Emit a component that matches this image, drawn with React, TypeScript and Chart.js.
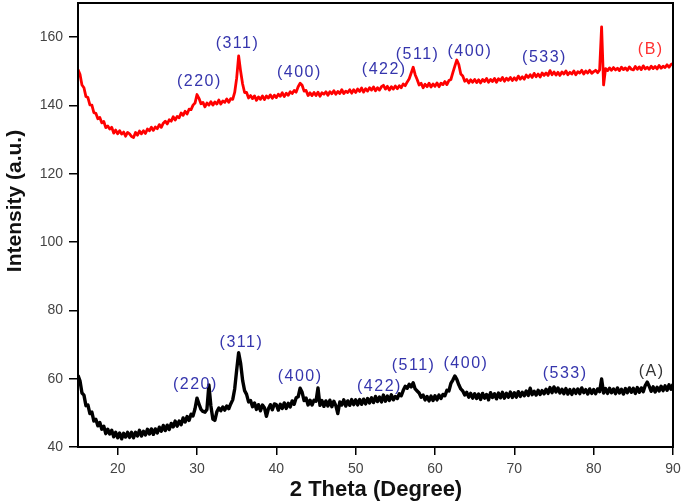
import React, { useEffect, useRef } from 'react';
import { Chart, registerables } from 'chart.js';

Chart.register(...registerables);

// XRD scan sampling (2θ, degrees)
const THETA_START = 15;
const THETA_STEP = 0.25;

// Sample (A) intensities, 15° → 90° every 0.25°
const intensityA = [
  61.0, 59.4, 55.8, 55.2, 52.1, 52.3, 49.8, 50.2, 47.6, 48.1, 46.2, 47.2, 45.2, 46.1, 43.9, 45.2, 43.8, 44.9, 43.0, 44.3,
  42.7, 44.1, 42.4, 44.0, 42.9, 44.3, 42.8, 44.3, 42.7, 44.3, 43.2, 44.9, 43.2, 44.6, 43.5, 45.2, 43.8, 45.3, 43.7, 45.3,
  44.1, 45.8, 44.6, 46.3, 44.8, 46.4, 45.1, 46.9, 45.9, 47.6, 46.1, 47.6, 46.5, 48.5, 47.3, 48.9, 47.8, 49.6, 49.1, 51.2,
  54.3, 52.6, 51.0, 50.4, 50.2, 51.0, 58.2, 52.0, 48.2, 47.8, 50.3, 51.4, 50.6, 51.7, 50.8, 52.0, 51.2, 52.6, 53.8, 57.0,
  62.5, 67.6, 64.5, 59.5, 56.5, 55.4, 53.2, 53.6, 51.8, 52.9, 51.0, 52.4, 50.6, 52.3, 51.5, 49.0, 51.2, 52.4, 50.9, 52.6,
  52.4, 50.8, 52.5, 51.3, 52.9, 51.3, 52.8, 51.7, 53.5, 52.5, 54.4, 54.7, 57.2, 56.0, 53.6, 54.3, 52.3, 53.7, 52.3, 53.7,
  53.4, 57.3, 52.2, 53.6, 51.9, 53.5, 52.0, 53.7, 51.8, 53.4, 52.1, 49.8, 53.2, 52.3, 53.8, 52.0, 53.5, 52.2, 53.9, 52.4,
  53.8, 52.3, 53.9, 52.5, 54.0, 52.6, 54.2, 52.9, 54.4, 53.0, 54.8, 53.3, 54.6, 53.2, 55.2, 53.4, 54.9, 53.6, 55.3, 53.8,
  54.8, 54.2, 55.6, 55.0, 56.6, 57.8, 57.2, 58.4, 57.6, 58.8, 57.0, 56.4, 55.8, 54.6, 55.2, 53.8, 54.8, 53.5, 54.9, 53.6,
  55.0, 53.8, 55.2, 54.2, 55.4, 55.0, 56.6, 56.4, 58.6, 59.6, 60.8, 59.8, 58.2, 57.0, 56.4, 55.2, 56.0, 54.6, 55.7, 54.3,
  55.6, 54.2, 55.5, 53.9, 55.7, 54.3, 55.4, 53.8, 55.9, 54.5, 55.6, 54.1, 55.8, 54.4, 56.0, 54.3, 55.7, 54.6, 56.1, 54.5,
  55.9, 54.6, 56.2, 54.8, 56.0, 55.0, 56.4, 55.1, 57.2, 55.3, 56.3, 55.2, 56.6, 55.4, 56.5, 55.6, 56.9, 55.7, 57.4, 55.9,
  57.6, 56.1, 57.3, 55.8, 56.9, 55.6, 57.1, 55.5, 56.8, 55.4, 56.9, 55.7, 57.0, 55.6, 57.3, 55.9, 56.8, 55.5, 57.0, 55.7,
  56.8, 55.6, 57.0, 56.2, 59.9, 55.8, 57.1, 55.7, 57.2, 55.9, 57.0, 55.6, 57.3, 55.8, 56.9, 55.5, 57.1, 55.9, 57.3, 56.0,
  57.2, 55.7, 57.4, 56.0, 57.3, 56.2, 58.0, 59.0, 57.8, 56.3, 57.6, 56.1, 57.5, 56.4, 57.8, 56.5, 57.9, 56.6, 58.2, 56.9,
  58.4,
];

// Sample (B) intensities, 15° → 90° every 0.25°
const intensityB = [
  150.5, 149.1, 146.0, 145.2, 142.6, 142.3, 140.2, 140.1, 137.9, 137.7, 136.1, 136.5, 134.9, 135.3, 133.5, 134.0, 133.1, 133.6, 131.9, 132.8,
  131.7, 132.6, 131.6, 132.2, 131.0, 132.1, 131.7, 130.9, 130.6, 132.1, 131.3, 132.5, 131.7, 132.6, 131.8, 133.1, 132.6, 133.6, 132.7, 133.7,
  133.2, 134.4, 133.6, 134.8, 135.4, 134.6, 135.8, 135.4, 136.7, 135.7, 136.8, 136.4, 137.8, 137.1, 138.3, 137.5, 138.9, 138.8, 140.1, 140.7,
  143.2, 142.1, 140.5, 140.9, 139.6, 140.7, 140.1, 141.1, 140.1, 141.0, 140.4, 141.6, 140.4, 141.3, 140.9, 141.9, 140.9, 142.0, 141.8, 143.8,
  148.0, 154.5, 150.0, 146.3, 143.8, 143.8, 142.2, 142.9, 142.0, 142.8, 141.5, 142.5, 141.8, 142.8, 141.7, 142.8, 142.2, 143.1, 142.1, 143.0,
  142.3, 143.3, 142.7, 143.7, 142.6, 143.6, 143.0, 144.0, 143.5, 144.4, 143.9, 145.5, 146.5, 145.9, 144.2, 144.4, 142.9, 143.7, 142.9, 143.8,
  142.9, 143.9, 142.7, 143.7, 143.3, 144.0, 143.0, 144.0, 143.4, 144.3, 143.3, 144.1, 143.5, 144.6, 143.5, 144.2, 143.8, 144.6, 143.6, 144.6,
  143.8, 144.8, 144.1, 145.1, 143.9, 144.9, 144.2, 145.2, 144.5, 145.4, 144.3, 145.2, 144.5, 145.5, 145.9, 144.8, 145.6, 144.5, 145.5, 144.8,
  145.7, 144.9, 145.8, 145.2, 146.3, 145.8, 146.9, 147.8, 149.5, 151.2, 149.0, 147.6, 146.0, 146.5, 145.2, 146.2, 145.5, 146.5, 145.4, 146.3,
  145.6, 146.6, 145.5, 146.5, 146.1, 147.0, 146.1, 147.3, 147.6, 149.6, 151.5, 153.3, 152.0, 149.2, 148.6, 147.1, 147.6, 146.6, 147.5, 146.8,
  147.6, 146.7, 147.5, 146.6, 147.6, 147.0, 147.9, 146.8, 147.6, 147.0, 147.9, 146.8, 147.8, 147.3, 148.2, 147.1, 148.0, 147.4, 148.2, 147.3,
  148.1, 147.4, 148.6, 147.7, 148.4, 147.7, 148.9, 148.2, 149.0, 148.2, 149.4, 148.4, 149.2, 148.3, 149.5, 148.8, 149.5, 148.8, 150.2, 149.0,
  149.8, 148.9, 149.7, 148.8, 149.8, 149.2, 150.1, 149.0, 149.7, 149.2, 150.1, 149.0, 149.9, 149.5, 150.3, 149.2, 150.1, 149.5, 150.3, 149.4,
  149.9, 150.3, 149.6, 150.4, 163.0, 146.0, 150.8, 150.2, 151.0, 150.3, 151.1, 150.4, 150.9, 150.2, 151.2, 150.5, 151.0, 150.3, 151.3, 150.6,
  150.4, 151.4, 150.6, 151.3, 150.5, 151.6, 150.7, 151.2, 150.6, 151.5, 150.8, 151.4, 150.7, 151.7, 150.9, 151.5, 151.1, 151.9, 151.2, 152.0,
  152.3,
];

// Peak (hkl) annotations
const peakNames = ['(220)', '(311)', '(400)', '(422)', '(511)', '(400)', '(533)'];
const peakLabelThetaA = [29.8, 35.6, 43.0, 53.0, 57.3, 63.9, 76.4];
const peakLabelIntA = [58.2, 70.5, 60.5, 57.6, 63.7, 64.3, 61.4];
const peakLabelThetaB = [30.3, 35.1, 42.9, 53.6, 57.8, 64.4, 73.8];
const peakLabelIntB = [146.9, 158.0, 149.5, 150.4, 154.8, 155.7, 153.9];

// Series tags
const seriesNames = ['(A)', '(B)'];
const seriesTagTheta = [87.3, 87.2];
const seriesTagInt = [62.0, 156.3];

// Axes
const X_MIN = 15;
const X_MAX = 90;
const X_STEP = 10;
const Y_MIN = 40;
const Y_MAX = 170;
const Y_STEP = 20;
const X_TITLE = '2 Theta (Degree)';
const Y_TITLE = 'Intensity (a.u.)';

const toPoints = (vals: number[]) =>
  vals.map((v, i) => ({ x: THETA_START + i * THETA_STEP, y: v }));

const annotationPlugin = {
  id: 'xrdAnnotations',
  afterDatasetsDraw(chart: any) {
    const { ctx, chartArea, scales } = chart;
    const xs = scales.x;
    const ys = scales.y;
    ctx.save();
    // frame box
    ctx.strokeStyle = '#000';
    ctx.lineWidth = 2;
    ctx.strokeRect(chartArea.left, chartArea.top, chartArea.right - chartArea.left, chartArea.bottom - chartArea.top);

    // peak labels
    ctx.font = '16px "Liberation Sans", Arial, sans-serif';
    (ctx as any).letterSpacing = '1.5px';
    ctx.textAlign = 'center';
    ctx.textBaseline = 'middle';
    ctx.fillStyle = '#3535ad';
    peakNames.forEach((name, i) => {
      ctx.fillText(name, xs.getPixelForValue(peakLabelThetaA[i]), ys.getPixelForValue(peakLabelIntA[i]));
      ctx.fillText(name, xs.getPixelForValue(peakLabelThetaB[i]), ys.getPixelForValue(peakLabelIntB[i]));
    });
    const tagColors = ['#333333', '#ff3030'];
    seriesNames.forEach((name, i) => {
      ctx.fillStyle = tagColors[i];
      ctx.fillText(name, xs.getPixelForValue(seriesTagTheta[i]), ys.getPixelForValue(seriesTagInt[i]));
    });
    (ctx as any).letterSpacing = '0px';

    // axis titles
    ctx.fillStyle = '#111';
    ctx.font = 'bold 21px "Liberation Sans Narrow", "Liberation Sans", Arial, sans-serif';
    ctx.save();
    ctx.translate(15, 201);
    ctx.rotate(-Math.PI / 2);
    ctx.fillText(Y_TITLE, 0, 0);
    ctx.restore();
    ctx.font = 'bold 22px "Liberation Sans", Arial, sans-serif';
    ctx.fillText(X_TITLE, 376, 490);
    ctx.restore();
  },
};

export default function App() {
  const canvasRef = useRef<HTMLCanvasElement | null>(null);

  useEffect(() => {
    if (!canvasRef.current) return;
    const tickFont = { family: '"Liberation Sans", Arial, sans-serif', size: 14 };
    const chart = new Chart(canvasRef.current, {
      type: 'line',
      data: {
        datasets: [
          {
            label: seriesNames[0],
            data: toPoints(intensityA),
            borderColor: '#000000',
            borderWidth: 3.4,
            borderJoinStyle: 'round',
            pointRadius: 0,
            tension: 0,
          },
          {
            label: seriesNames[1],
            data: toPoints(intensityB),
            borderColor: '#ff0000',
            borderWidth: 2.8,
            borderJoinStyle: 'round',
            pointRadius: 0,
            tension: 0,
          },
        ],
      },
      options: {
        animation: false,
        responsive: false,
        devicePixelRatio: 1,
        layout: { padding: { top: 3, right: 12, left: 0, bottom: 0 } },
        plugins: { legend: { display: false }, tooltip: { enabled: false } },
        scales: {
          x: {
            type: 'linear',
            min: X_MIN,
            max: X_MAX,
            ticks: {
              stepSize: X_STEP,
              includeBounds: false,
              color: '#444',
              font: tickFont,
              padding: 6,
              maxRotation: 0,
            },
            grid: { drawOnChartArea: false, drawTicks: true, tickLength: 8, color: '#000', lineWidth: 1.5 },
            border: { display: true, color: '#000', width: 2 },
            afterFit: (s: any) => {
              s.height = 56;
              s.paddingLeft = 0;
              s.paddingRight = 0;
            },
          },
          y: {
            type: 'linear',
            min: Y_MIN,
            max: Y_MAX,
            ticks: {
              stepSize: Y_STEP,
              includeBounds: false,
              color: '#444',
              font: tickFont,
              padding: 6,
            },
            grid: { drawOnChartArea: false, drawTicks: true, tickLength: 9, color: '#000', lineWidth: 1.5 },
            border: { display: true, color: '#000', width: 2 },
            afterFit: (s: any) => {
              s.width = 78;
              s.paddingTop = 0;
              s.paddingBottom = 0;
            },
          },
        },
      } as any,
      plugins: [annotationPlugin],
    });
    return () => chart.destroy();
  }, []);

  return (
    <div style={{ position: 'absolute', left: 0, top: 0, width: 685, height: 503, background: '#fff' }}>
      <canvas ref={canvasRef} width={685} height={503} style={{ width: 685, height: 503, display: 'block' }} />
    </div>
  );
}
